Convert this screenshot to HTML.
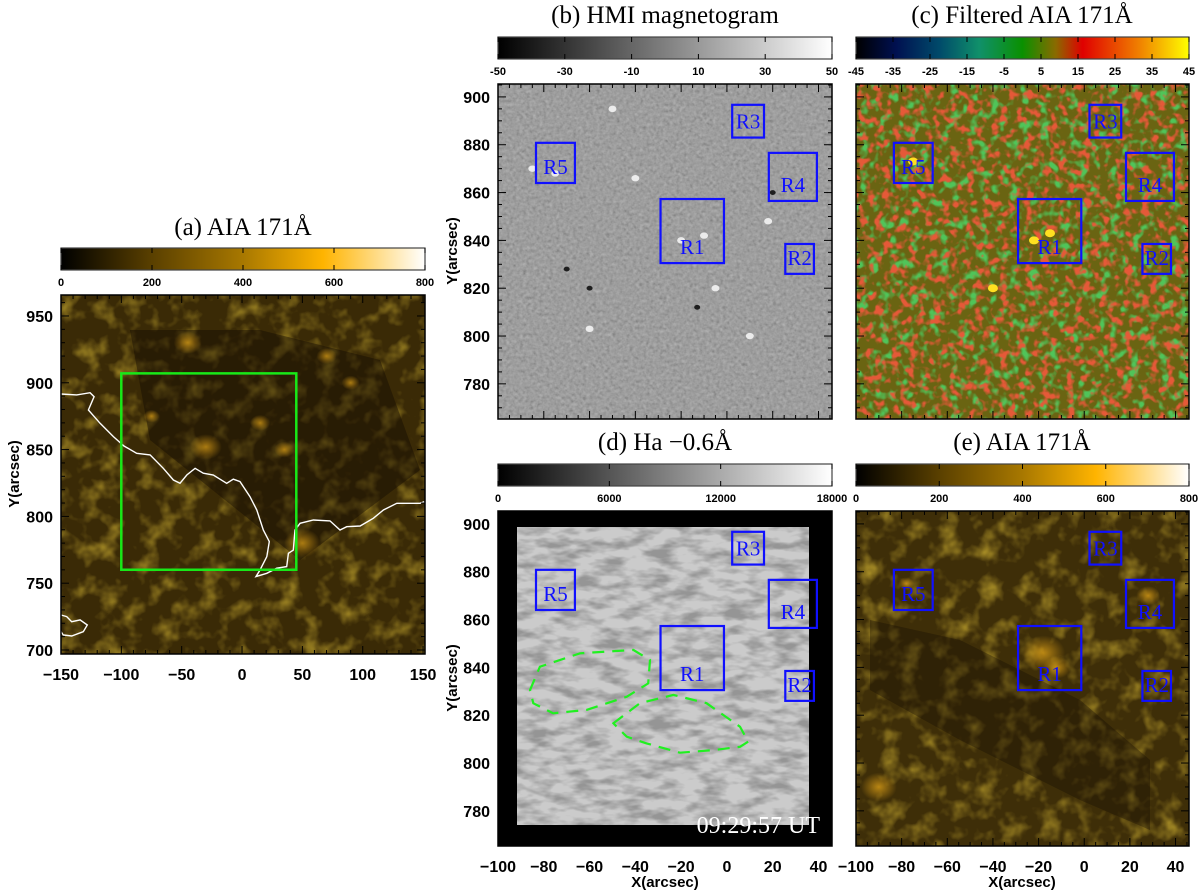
<!DOCTYPE html>
<html><head><meta charset="utf-8">
<style>
html,body{margin:0;padding:0;background:#fff;}
svg{display:block;}
.title{font-family:"Liberation Serif",serif;font-size:25px;fill:#000;}
.tick{font-family:"Liberation Sans",sans-serif;font-weight:bold;font-size:16px;fill:#000;}
.cbt{font-family:"Liberation Sans",sans-serif;font-weight:bold;font-size:11px;fill:#000;}
.axl{font-family:"Liberation Sans",sans-serif;font-weight:bold;font-size:15px;fill:#000;}
.rl{font-family:"Liberation Serif",serif;font-size:21px;fill:#1010ff;}
</style></head>
<body>
<svg id="fig" width="1200" height="892" viewBox="0 0 1200 892" xmlns="http://www.w3.org/2000/svg">
<defs>
<linearGradient id="g-aia"><stop offset="0" stop-color="#000"/><stop offset="0.25" stop-color="#5a4000"/><stop offset="0.5" stop-color="#a87800"/><stop offset="0.72" stop-color="#ffb400"/><stop offset="1" stop-color="#fff"/></linearGradient>
<linearGradient id="g-gray"><stop offset="0" stop-color="#000"/><stop offset="1" stop-color="#fff"/></linearGradient>
<linearGradient id="g-filt"><stop offset="0" stop-color="#000"/><stop offset="0.12" stop-color="#001050"/><stop offset="0.25" stop-color="#004a6a"/><stop offset="0.37" stop-color="#10906a"/><stop offset="0.5" stop-color="#0a9000"/><stop offset="0.6" stop-color="#8a6a00"/><stop offset="0.68" stop-color="#e00000"/><stop offset="0.85" stop-color="#f08000"/><stop offset="1" stop-color="#ffff00"/></linearGradient>
<filter id="f-red" x="0" y="0" width="100%" height="100%"><feTurbulence type="fractalNoise" baseFrequency="0.12" numOctaves="2" seed="3"/><feColorMatrix type="matrix" values="0 0 0 0 0.78  0 0 0 0 0.1  0 0 0 0 0.04  5 0 0 0 -2.55"/></filter>
<filter id="f-grn" x="0" y="0" width="100%" height="100%"><feTurbulence type="fractalNoise" baseFrequency="0.1" numOctaves="2" seed="9"/><feColorMatrix type="matrix" values="0 0 0 0 0.08  0 0 0 0 0.55  0 0 0 0 0.1  5 0 0 0 -2.6"/></filter>
<filter id="f-gray" x="0" y="0" width="100%" height="100%"><feTurbulence type="fractalNoise" baseFrequency="0.3" numOctaves="2" seed="4"/><feColorMatrix type="matrix" values="0.33 0.33 0.33 0 0  0.33 0.33 0.33 0 0  0.33 0.33 0.33 0 0  0 0 0 0 0.5"/></filter>
<filter id="f-ha" x="0" y="0" width="100%" height="100%"><feTurbulence type="fractalNoise" baseFrequency="0.04 0.1" numOctaves="3" seed="7"/><feColorMatrix type="matrix" values="0 0 0 0 0.3  0 0 0 0 0.3  0 0 0 0 0.3  3 0 0 0 -1.2"/></filter>
<filter id="f-aia" x="0" y="0" width="100%" height="100%"><feTurbulence type="fractalNoise" baseFrequency="0.05" numOctaves="3" seed="2"/><feColorMatrix type="matrix" values="0 0 0 0 0.6  0 0 0 0 0.42  0 0 0 0 0.03  1.6 0 0 0 -0.75"/></filter>
<radialGradient id="blob"><stop offset="0" stop-color="#e8a818" stop-opacity="0.85"/><stop offset="1" stop-color="#e8a818" stop-opacity="0"/></radialGradient>
</defs>
</svg>
<script>
// ---- data ----
const regionNames = ['R1','R2','R3','R4','R5'];
const regionX0 = [-29, 25.5, 2.3, 18.3, -83.4];
const regionX1 = [-1.3, 38, 16.2, 39.3, -66.4];
const regionY0 = [830.5, 826, 883, 856.5, 864];
const regionY1 = [857.3, 838.5, 896.7, 876.6, 880.8];
const fovX = [-100, 45];
const fovY = [760, 907];
const contourX = [-150,-137,-125.9,-122.6,-127.3,-117.6,-106.6,-97.8,-87.3,-76.2,-65.2,-56.9,-51.4,-45.8,-38.9,-32.1,-23.8,-12.7,-7.2,-1.7,6.6,12.2,17.6,22.6,20.5,14.9,11.6,20.5,28.7,37,38.4,42.5,43.9,48.1,59.1,72.9,81.2,86.7,97.8,108.8,117.1,128.2,147.5,151];
const contourY = [891.6,890.9,892.6,889.6,879.6,869.7,859.7,852.7,847.2,846,836,827.2,824.8,831,836,832.3,831,824.8,827.8,826,814.7,804.8,789.8,781.1,769.8,759.9,754.9,757.4,761.2,762.4,772.4,774.8,789.8,794.8,797.3,796.6,789.8,792.3,792.8,798.6,804.8,809.8,809.8,811];
const contour2X = [-150,-145.3,-141.1,-134.2,-128.2,-131.5,-141.1,-148.1,-150];
const contour2Y = [726.2,725,721.2,722.5,718.7,713.7,710.5,711.2,713.7];
const dash1X = [-86,-81.7,-64.2,-40.9,-33.6,-34.4,-43.8,-61.3,-75.9,-84.6];
const dash1Y = [830.5,840.3,845.9,847.3,843.1,833.3,827.7,822.2,820.8,825];
const dash2X = [-49.6,-38,-23.4,-8.9,5.7,9.3,5.7,-6,-20.5,-35.1,-43.8];
const dash2Y = [816.6,825,828.5,825,815.2,808.9,806.8,805.4,804.3,808.2,811];
const cbTicksA = ['0','200','400','600','800'];
const cbTicksB = ['-50','-30','-10','10','30','50'];
const cbTicksC = ['-45','-35','-25','-15','-5','5','15','25','35','45'];
const cbTicksD = ['0','6000','12000','18000'];
const xTicksA = [-150,-100,-50,0,50,100,150];
const yTicksA = [700,750,800,850,900,950];
const xTicksB = [-100,-80,-60,-40,-20,0,20,40];
const yTicksB = [780,800,820,840,860,880,900];

const NS='http://www.w3.org/2000/svg';
const svg=document.getElementById('fig');
function mk(tag,attrs,parent,text){const e=document.createElementNS(NS,tag);for(const k in attrs)e.setAttribute(k,attrs[k]);if(text!==undefined)e.textContent=text;(parent||svg).appendChild(e);return e;}
function fmt(v){return v<0?'\u2212'+Math.abs(v):String(v);}

function panel(key,p){
  const g=mk('g',{});
  
  
  p.sx=v=>p.x0+(v-p.xmin)/(p.xmax-p.xmin)*(p.x1-p.x0);
  p.sy=v=>p.y1-(v-p.ymin)/(p.ymax-p.ymin)*(p.y1-p.y0);
  p.g=g;return p;
}
function frame(p,xt,yt,minorX,minorY,showX,showY){
  const g=p.g;
  for(let v=Math.ceil(p.xmin/minorX)*minorX; v<=p.xmax; v+=minorX){
    const X=p.sx(v), major=xt.includes(v), L=major?8:4;
    mk('line',{x1:X,y1:p.y1,x2:X,y2:p.y1-L,stroke:'#000','stroke-width':1},g);
    mk('line',{x1:X,y1:p.y0,x2:X,y2:p.y0+L,stroke:'#000','stroke-width':1},g);
  }
  for(let v=Math.ceil(p.ymin/minorY)*minorY; v<=p.ymax; v+=minorY){
    const Y=p.sy(v), major=yt.includes(v), L=major?8:4;
    mk('line',{x1:p.x0,y1:Y,x2:p.x0+L,y2:Y,stroke:'#000','stroke-width':1},g);
    mk('line',{x1:p.x1,y1:Y,x2:p.x1-L,y2:Y,stroke:'#000','stroke-width':1},g);
  }
  mk('rect',{x:p.x0,y:p.y0,width:p.x1-p.x0,height:p.y1-p.y0,fill:'none',stroke:'#000','stroke-width':1.5},g);
  if(showX) xt.forEach(v=>{const t=mk('text',{x:p.sx(v),y:p.y1+26,'text-anchor':'middle',class:'tick'},g,fmt(v));});
  if(showY) yt.forEach(v=>{const t=mk('text',{x:p.x0-8,y:p.sy(v)+6,'text-anchor':'end',class:'tick'},g,String(v));});
}
function colorbar(x0,x1,y0,y1,grad,labels,name){
  const g=mk('g',{});
  
  
  mk('rect',{x:x0,y:y0,width:x1-x0,height:y1-y0,fill:'url(#'+grad+')',stroke:'#444','stroke-width':1.2},g);
  const n=labels.length;
  labels.forEach((l,i)=>{
    const X=x0+i/(n-1)*(x1-x0);
    mk('line',{x1:X,y1:y0,x2:X,y2:y0+5,stroke:'#000'},g);
    mk('line',{x1:X,y1:y1,x2:X,y2:y1-5,stroke:'#000'},g);
    const t=mk('text',{x:X,y:y1+16,'text-anchor':'middle',class:'cbt'},g,l);
    
    
  });
}
function title(x,y,txt,name){const t=mk('text',{x:x,y:y,'text-anchor':'middle',class:'title'},svg,txt);}
function regions(p){
  regionNames.forEach((n,i)=>{
    const X0=p.sx(regionX0[i]),X1=p.sx(regionX1[i]),Y0=p.sy(regionY1[i]),Y1=p.sy(regionY0[i]);
    const r=mk('rect',{x:X0,y:Y0,width:X1-X0,height:Y1-Y0,fill:'none',stroke:'#1010ff','stroke-width':2.2},p.g);
    
    
    const t=mk('text',{x:(X0+X1)/2,y:Y1-9,'text-anchor':'middle',class:'rl'},p.g,n);
    
    
  });
}
function poly(p,xs,ys,attrs,name,closed){
  let d=xs.map((x,i)=>(i?'L':'M')+p.sx(x).toFixed(1)+','+p.sy(ys[i]).toFixed(1)).join('')+(closed?'Z':'');
  const a=Object.assign({d:d,fill:'none'},attrs);
  const e=mk('path',a,p.g);
  
  
}
function blob(p,x,y,r,op,color){mk('ellipse',{cx:p.sx(x),cy:p.sy(y),rx:r,ry:r*0.8,fill:color||'url(#blob)',opacity:op},p.g);}

// ---------- Panel A ----------
const A=panel('a',{x0:61,x1:425,y0:295,y1:654,xmin:-150,xmax:151.6,ymin:697,ymax:965.7});
mk('rect',{x:A.x0,y:A.y0,width:A.x1-A.x0,height:A.y1-A.y0,fill:'#3a2a06'},A.g);
mk('rect',{x:A.x0,y:A.y0,width:A.x1-A.x0,height:A.y1-A.y0,filter:'url(#f-aia)'},A.g);
mk('path',{d:'M130,330 L260,330 L380,360 L420,470 L300,560 L250,520 L150,440Z',fill:'#140c02',opacity:0.45},A.g);
[[-45,930,14],[70,920,10],[90,900,9],[-30,852,16],[15,870,10],[50,780,18],[-75,875,8],[35,850,10]].forEach(b=>blob(A,b[0],b[1],b[2],0.8));
poly(A,contourX,contourY,{stroke:'#fff','stroke-width':1.4},'polarity-inversion-line',false);
poly(A,contour2X,contour2Y,{stroke:'#fff','stroke-width':1.4},'contour-small',false);
poly(A,[fovX[0],fovX[1],fovX[1],fovX[0]],[fovY[0],fovY[0],fovY[1],fovY[1]],{stroke:'#18e818','stroke-width':2.5},'fov-box',true);
frame(A,xTicksA,yTicksA,10,10,true,true);
colorbar(61,425,248,270,'g-aia',cbTicksA,'colorbar-a');
title(243,235,'(a) AIA 171\u00c5','title-a');
{const t=mk('text',{x:0,y:0,class:'axl',transform:'translate(19,474) rotate(-90)','text-anchor':'middle'},svg,'Y(arcsec)');}

// ---------- Panel B ----------
const B=panel('b',{x0:498,x1:832,y0:84,y1:419,xmin:-100,xmax:45.9,ymin:765.3,ymax:905.4});
mk('rect',{x:B.x0,y:B.y0,width:B.x1-B.x0,height:B.y1-B.y0,fill:'#808080'},B.g);
mk('rect',{x:B.x0,y:B.y0,width:B.x1-B.x0,height:B.y1-B.y0,filter:'url(#f-gray)'},B.g);
[[-60,803],[-40,866],[-20,840],[-10,842],[10,800],[-50,895],[-5,820],[18,848],[-85,870],[-75,868]].forEach(b=>blob(B,b[0],b[1],4,0.9,'#f4f4f4'));
[[-70,828],[-60,820],[20,860],[-13,812]].forEach(b=>blob(B,b[0],b[1],3,0.9,'#111'));
regions(B);
frame(B,xTicksB,yTicksB,5,5,false,true);
colorbar(498,832,37,59,'g-gray',cbTicksB,'colorbar-b');
title(665,23,'(b) HMI magnetogram','title-b');
{const t=mk('text',{x:0,y:0,class:'axl',transform:'translate(457,251) rotate(-90)','text-anchor':'middle'},svg,'Y(arcsec)');}

// ---------- Panel C ----------
const C=panel('c',{x0:856,x1:1189,y0:84,y1:419,xmin:-100,xmax:45.9,ymin:765.3,ymax:905.4});
mk('rect',{x:C.x0,y:C.y0,width:C.x1-C.x0,height:C.y1-C.y0,fill:'#6a6412'},C.g);
mk('rect',{x:C.x0,y:C.y0,width:C.x1-C.x0,height:C.y1-C.y0,filter:'url(#f-grn)'},C.g);
mk('rect',{x:C.x0,y:C.y0,width:C.x1-C.x0,height:C.y1-C.y0,filter:'url(#f-red)'},C.g);
[[-75,873],[-22,840],[-15,843],[-40,820]].forEach(b=>blob(C,b[0],b[1],5,1,'#ffe020'));
regions(C);
frame(C,xTicksB,yTicksB,5,5,false,false);
colorbar(856,1189,37,59,'g-filt',cbTicksC,'colorbar-c');
title(1022,23,'(c) Filtered AIA 171\u00c5','title-c');

// ---------- Panel D ----------
const D=panel('d',{x0:498,x1:832,y0:511,y1:846,xmin:-100,xmax:45.9,ymin:765.3,ymax:905.4});
mk('rect',{x:D.x0,y:D.y0,width:D.x1-D.x0,height:D.y1-D.y0,fill:'#000'},D.g);
mk('rect',{x:517,y:527,width:292,height:298,fill:'#cbcbcb'},D.g);
mk('rect',{x:517,y:527,width:292,height:298,filter:'url(#f-ha)'},D.g);
poly(D,dash1X,dash1Y,{stroke:'#20f020','stroke-width':2.2,'stroke-dasharray':'12,8'},'dashed-region-1',true);
poly(D,dash2X,dash2Y,{stroke:'#20f020','stroke-width':2.2,'stroke-dasharray':'12,8'},'dashed-region-2',true);
regions(D);
frame(D,xTicksB,yTicksB,5,5,true,true);
colorbar(498,832,464,486,'g-gray',cbTicksD,'colorbar-d');
title(665,450,'(d) Ha \u22120.6\u00c5','title-d');
{const t=mk('text',{x:820,y:833,'text-anchor':'end',style:'font-family:"Liberation Serif",serif;font-size:24px;fill:#fff'},svg,'09:29:57 UT');}
{const t=mk('text',{x:0,y:0,class:'axl',transform:'translate(457,678) rotate(-90)','text-anchor':'middle'},svg,'Y(arcsec)');}
{const t=mk('text',{x:665,y:887,class:'axl','text-anchor':'middle'},svg,'X(arcsec)');}

// ---------- Panel E ----------
const E=panel('e',{x0:856,x1:1189,y0:511,y1:846,xmin:-100,xmax:45.9,ymin:765.3,ymax:905.4});
mk('rect',{x:E.x0,y:E.y0,width:E.x1-E.x0,height:E.y1-E.y0,fill:'#3e2e08'},E.g);
mk('rect',{x:E.x0,y:E.y0,width:E.x1-E.x0,height:E.y1-E.y0,filter:'url(#f-aia)'},E.g);
mk('path',{d:'M870,620 L960,640 L1080,700 L1150,760 L1150,830 L1080,800 L960,740 L870,690Z',fill:'#140c02',opacity:0.35},E.g);
[[-18,846,22],[-12,840,14],[28,870,12],[-78,875,8],[-90,790,18],[36,835,9]].forEach(b=>blob(E,b[0],b[1],b[2],0.85));
regions(E);
frame(E,xTicksB,yTicksB,5,5,true,false);
colorbar(856,1189,464,486,'g-aia',cbTicksA,'colorbar-e');
title(1022,450,'(e) AIA 171\u00c5','title-e');
{const t=mk('text',{x:1022,y:887,class:'axl','text-anchor':'middle'},svg,'X(arcsec)');}
</script>
</body></html>
